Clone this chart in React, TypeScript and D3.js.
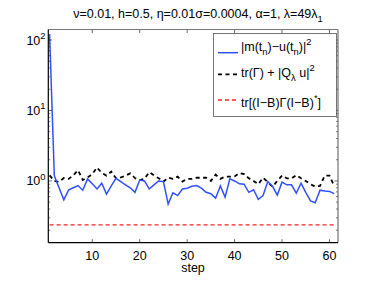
import * as d3 from "d3";
import React from "react";

// steps 1..61
const errorVals = [
  122, 1.18, 0.8, 0.54, 0.74, 0.8, 0.86, 0.74, 1.07, 0.91,
  0.77, 0.93, 0.65, 0.85, 1.09, 0.98, 0.88, 0.8, 0.69, 1.03,
  1.0, 0.77, 0.88, 1.0, 0.98, 0.47, 0.68, 0.62, 0.77, 0.79,
  0.84, 0.86, 0.79, 0.69, 0.66, 0.57, 0.85, 0.59, 1.07, 1.0,
  0.91, 0.9, 0.69, 0.75, 0.55, 0.62, 0.98, 0.84, 0.63, 0.96,
  0.88, 0.88, 0.67, 0.93, 0.69, 0.52, 0.49, 0.74, 0.72, 0.71,
  0.66,
];

const traceVals = [
  1.2, 1.0, 0.97, 1.1, 1.07, 1.2, 1.42, 1.03, 1.12, 1.25,
  1.55, 1.3, 1.19, 1.36, 1.09, 1.12, 1.19, 1.28, 1.1, 1.03,
  1.07, 1.33, 1.2, 1.09, 0.98, 1.11, 1.07, 1.15, 0.98, 1.07,
  1.07, 1.11, 1.11, 1.11, 1.0, 1.23, 1.07, 1.15, 1.15, 1.16,
  1.3, 1.25, 1.09, 1.0, 0.9, 1.11, 0.96, 0.83, 1.0, 1.19,
  1.09, 1.09, 1.21, 1.09, 1.0, 0.9, 0.83, 0.85, 1.19, 1.19,
  0.85,
];

const boundVal = 0.238;

const xTicks = [10, 20, 30, 40, 50, 60];
const yTicks = [1, 10, 100];

type Seg = { t: string; s?: "sub" | "sup" };

const titleSegs: Seg[] = [
  { t: "ν=0.01, h=0.5, η=0.01σ=0.0004, α=1, λ=49λ" },
  { t: "1", s: "sub" },
];
const legendSegs: Seg[][] = [
  [
    { t: "|m(t" },
    { t: "n", s: "sub" },
    { t: ")−u(t" },
    { t: "n", s: "sub" },
    { t: ")|" },
    { t: "2", s: "sup" },
  ],
  [
    { t: "tr(Γ) + |Q" },
    { t: "λ", s: "sub" },
    { t: " u|" },
    { t: "2", s: "sup" },
  ],
  [{ t: "tr[(I−B)Γ(I−B)" }, { t: "*", s: "sup" }, { t: "]" }],
];

const FONT = "Liberation Sans, Arial, sans-serif";

function RichText({ segs, x, y, size, anchor = "start" }: { segs: Seg[]; x: number; y: number; size: number; anchor?: string }) {
  let cur = 0;
  return (
    <text x={x} y={y} fontSize={size} fontFamily={FONT} textAnchor={anchor} fill="#000">
      {segs.map((sg, i) => {
        const target = sg.s === "sub" ? size * 0.35 : sg.s === "sup" ? -size * 0.45 : 0;
        const dy = target - cur;
        cur = target;
        return (
          <tspan key={i} dy={dy} fontSize={sg.s ? size * 0.75 : size}>
            {sg.t}
          </tspan>
        );
      })}
    </text>
  );
}

export default function App() {
  const W = 374;
  const H = 281;
  const left = 48.3;
  const right = 338;
  const top = 29.5;
  const bottom = 242.7;

  const x = d3.scaleLinear().domain([0.73, 61.8]).range([left, right]);
  const y = d3.scaleLog().domain([0.133, 141]).range([bottom, top]);

  const steps = d3.range(1, errorVals.length + 1);
  const line = d3
    .line<number>()
    .x((_, i) => x(steps[i]))
    .y((d) => y(d));

  const minor: number[] = [];
  [0.1, 1, 10, 100].forEach((dec) => {
    for (let k = 2; k <= 9; k++) {
      const v = dec * k;
      if (v > 0.133 && v < 141) minor.push(v);
    }
  });

  const tickLen = 3.5;
  const minorLen = 2;

  return (
    <svg width={W} height={H} style={{ position: "absolute", left: 0, top: 0, background: "#fff" }}>
      <rect x={0} y={0} width={W} height={H} fill="#fff" />
      <RichText segs={titleSegs} x={198} y={18} size={12.5} anchor="middle" />

      {/* data */}
      <path d={line(steps.map(() => boundVal)) || ""} fill="none" stroke="#ff2020" strokeWidth={1.4} strokeDasharray="4,3" />
      <path d={line(traceVals) || ""} fill="none" stroke="#000" strokeWidth={1.8} strokeDasharray="4,3.5" />
      <path d={line(errorVals) || ""} fill="none" stroke="#3050ff" strokeWidth={1.5} />

      {/* ticks */}
      {xTicks.map((t) => (
        <g key={"x" + t}>
          <line x1={x(t)} x2={x(t)} y1={bottom} y2={bottom - tickLen} stroke="#000" strokeWidth={0.6} />
          <line x1={x(t)} x2={x(t)} y1={top} y2={top + tickLen} stroke="#000" strokeWidth={0.6} />
          <text x={x(t)} y={259.5} fontSize={12.5} fontFamily={FONT} textAnchor="middle">
            {t}
          </text>
        </g>
      ))}
      {yTicks.map((t) => (
        <g key={"y" + t}>
          <line x1={left} x2={left + tickLen} y1={y(t)} y2={y(t)} stroke="#000" strokeWidth={0.6} />
          <line x1={right} x2={right - tickLen} y1={y(t)} y2={y(t)} stroke="#000" strokeWidth={0.6} />
          <RichText segs={[{ t: "10" }, { t: String(Math.round(Math.log10(t))), s: "sup" }]} x={45.5} y={y(t) + 4.5} size={12.5} anchor="end" />
        </g>
      ))}
      {minor.map((v) => (
        <g key={"m" + v}>
          <line x1={left} x2={left + minorLen} y1={y(v)} y2={y(v)} stroke="#000" strokeWidth={0.5} />
          <line x1={right} x2={right - minorLen} y1={y(v)} y2={y(v)} stroke="#000" strokeWidth={0.5} />
        </g>
      ))}

      {/* axes box */}
      <line x1={left} x2={right} y1={top} y2={top} stroke="#777" strokeWidth={1} />
      <line x1={right} x2={right} y1={top} y2={bottom} stroke="#555" strokeWidth={1} />
      <line x1={left} x2={left} y1={top} y2={bottom} stroke="#000" strokeWidth={1.2} />
      <line x1={left} x2={right} y1={bottom} y2={bottom} stroke="#000" strokeWidth={1.2} />

      <text x={193} y={272} fontSize={12.5} fontFamily={FONT} textAnchor="middle">
        step
      </text>

      {/* legend */}
      <rect x={213.5} y={33.5} width={123} height={83} fill="#fff" stroke="#555" strokeWidth={0.8} />
      <line x1={218} x2={238} y1={52.7} y2={52.7} stroke="#3050ff" strokeWidth={1.5} />
      <line x1={218} x2={238} y1={74.3} y2={74.3} stroke="#000" strokeWidth={1.8} strokeDasharray="4,3.5" />
      <line x1={218} x2={238} y1={100} y2={100} stroke="#ff2020" strokeWidth={1.4} strokeDasharray="4,3" />
      <RichText segs={legendSegs[0]} x={241} y={50.5} size={12.5} />
      <RichText segs={legendSegs[1]} x={241} y={77} size={12.5} />
      <RichText segs={legendSegs[2]} x={241} y={106.5} size={12.5} />
    </svg>
  );
}
